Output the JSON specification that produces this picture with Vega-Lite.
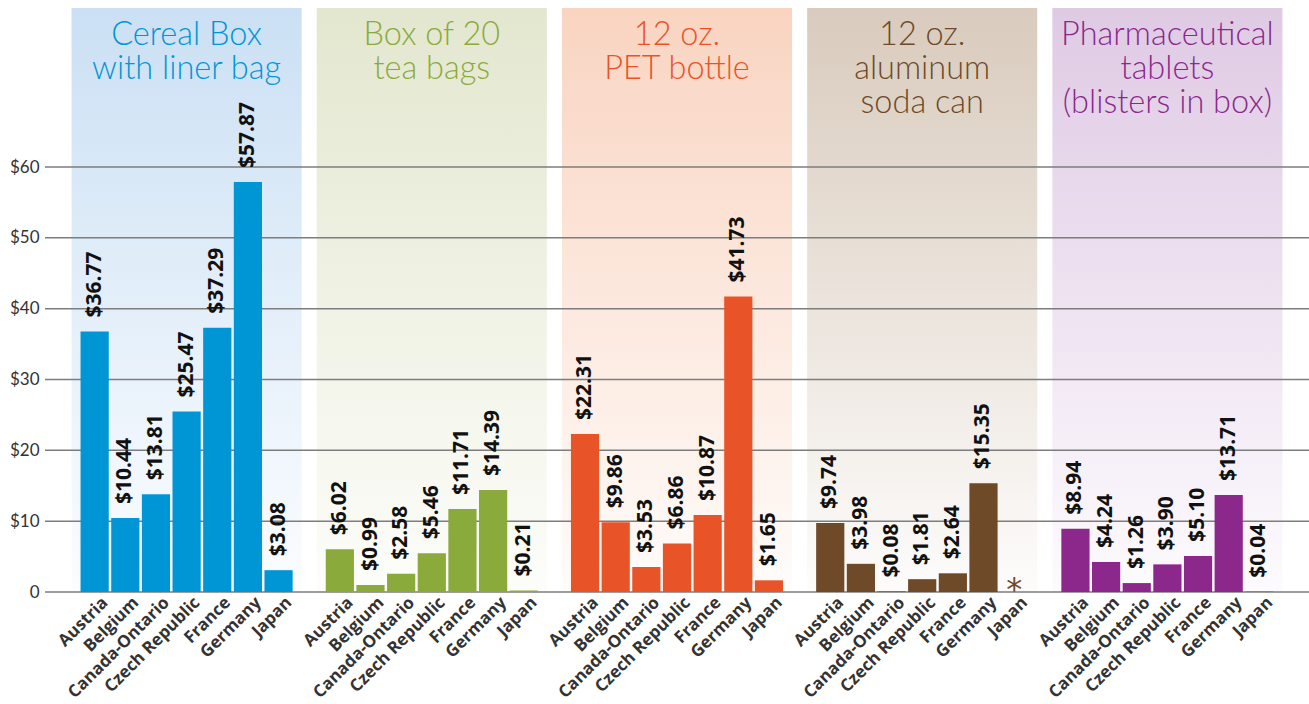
{
  "$schema": "https://vega.github.io/schema/vega-lite/v6.json",
  "width": 1264,
  "height": 584,
  "autosize": {"type": "none"},
  "padding": {"left": 45, "top": 8, "right": 0, "bottom": 112},
  "background": "white",
  "config": {
    "view": {"stroke": null},
    "font": "Lato",
    "axisX": {"title": null, "domain": false, "ticks": false, "grid": false, "labelAngle": -45, "labelAlign": "right", "labelBaseline": "top", "labelFont": "Open Sans", "labelFontWeight": "bold", "labelFontSize": 17, "labelColor": "#333333", "labelPadding": 2, "labelOffset": 5},
    "axisY": {"title": null, "domain": false, "ticks": false, "grid": false, "labelFont": "Lato", "labelFontSize": 17, "labelColor": "#333333", "labelPadding": 6}
  },
  "datasets": {
    "bars": [
      {"pkg": "p1", "country": "Austria", "value": 36.77},
      {"pkg": "p1", "country": "Belgium", "value": 10.44},
      {"pkg": "p1", "country": "Canada-Ontario", "value": 13.81},
      {"pkg": "p1", "country": "Czech Republic", "value": 25.47},
      {"pkg": "p1", "country": "France", "value": 37.29},
      {"pkg": "p1", "country": "Germany", "value": 57.87},
      {"pkg": "p1", "country": "Japan", "value": 3.08},
      {"pkg": "p2", "country": "Austria", "value": 6.02},
      {"pkg": "p2", "country": "Belgium", "value": 0.99},
      {"pkg": "p2", "country": "Canada-Ontario", "value": 2.58},
      {"pkg": "p2", "country": "Czech Republic", "value": 5.46},
      {"pkg": "p2", "country": "France", "value": 11.71},
      {"pkg": "p2", "country": "Germany", "value": 14.39},
      {"pkg": "p2", "country": "Japan", "value": 0.21},
      {"pkg": "p3", "country": "Austria", "value": 22.31},
      {"pkg": "p3", "country": "Belgium", "value": 9.86},
      {"pkg": "p3", "country": "Canada-Ontario", "value": 3.53},
      {"pkg": "p3", "country": "Czech Republic", "value": 6.86},
      {"pkg": "p3", "country": "France", "value": 10.87},
      {"pkg": "p3", "country": "Germany", "value": 41.73},
      {"pkg": "p3", "country": "Japan", "value": 1.65},
      {"pkg": "p4", "country": "Austria", "value": 9.74},
      {"pkg": "p4", "country": "Belgium", "value": 3.98},
      {"pkg": "p4", "country": "Canada-Ontario", "value": 0.08},
      {"pkg": "p4", "country": "Czech Republic", "value": 1.81},
      {"pkg": "p4", "country": "France", "value": 2.64},
      {"pkg": "p4", "country": "Germany", "value": 15.35},
      {"pkg": "p4", "country": "Japan", "value": null},
      {"pkg": "p5", "country": "Austria", "value": 8.94},
      {"pkg": "p5", "country": "Belgium", "value": 4.24},
      {"pkg": "p5", "country": "Canada-Ontario", "value": 1.26},
      {"pkg": "p5", "country": "Czech Republic", "value": 3.9},
      {"pkg": "p5", "country": "France", "value": 5.1},
      {"pkg": "p5", "country": "Germany", "value": 13.71},
      {"pkg": "p5", "country": "Japan", "value": 0.04}
    ],
    "panels": [
      {"pkg": "p1", "title": "Cereal Box\nwith liner bag", "first": "p1|Austria", "mid": "p1|Czech Republic", "last": "p1|Japan"},
      {"pkg": "p2", "title": "Box of 20\ntea bags", "first": "p2|Austria", "mid": "p2|Czech Republic", "last": "p2|Japan"},
      {"pkg": "p3", "title": "12 oz.\nPET bottle", "first": "p3|Austria", "mid": "p3|Czech Republic", "last": "p3|Japan"},
      {"pkg": "p4", "title": "12 oz.\naluminum\nsoda can", "first": "p4|Austria", "mid": "p4|Czech Republic", "last": "p4|Japan"},
      {"pkg": "p5", "title": "Pharmaceutical\ntablets\n(blisters in box)", "first": "p5|Austria", "mid": "p5|Czech Republic", "last": "p5|Japan"}
    ],
    "grid": [{"v": 0}, {"v": 10}, {"v": 20}, {"v": 30}, {"v": 40}, {"v": 50}, {"v": 60}]
  },
  "resolve": {"scale": {"x": "shared", "y": "shared", "color": "shared"}},
  "layer": [
    {
      "data": {"name": "panels"},
      "transform": [{"filter": "datum.pkg == 'p1'"}],
      "mark": {"type": "rect", "xOffset": -9, "x2Offset": 9, "fill": {"gradient": "linear", "x1": 0, "y1": 0, "x2": 0, "y2": 1, "stops": [{"offset": 0, "color": "#cbe0f4"}, {"offset": 1, "color": "#fbfdff"}]}},
      "encoding": {
        "x": {"field": "first", "type": "nominal", "bandPosition": 0, "axis": {"labelExpr": "split(datum.value, '|')[1]"}, "scale": {"domain": ["s0|", "p1|Austria", "p1|Belgium", "p1|Canada-Ontario", "p1|Czech Republic", "p1|France", "p1|Germany", "p1|Japan", "s1|", "p2|Austria", "p2|Belgium", "p2|Canada-Ontario", "p2|Czech Republic", "p2|France", "p2|Germany", "p2|Japan", "s2|", "p3|Austria", "p3|Belgium", "p3|Canada-Ontario", "p3|Czech Republic", "p3|France", "p3|Germany", "p3|Japan", "s3|", "p4|Austria", "p4|Belgium", "p4|Canada-Ontario", "p4|Czech Republic", "p4|France", "p4|Germany", "p4|Japan", "s4|", "p5|Austria", "p5|Belgium", "p5|Canada-Ontario", "p5|Czech Republic", "p5|France", "p5|Germany", "p5|Japan", "s5|"], "paddingInner": 0.08, "paddingOuter": 0.16}},
        "x2": {"field": "last", "bandPosition": 1}
      }
    },
    {
      "data": {"name": "panels"},
      "transform": [{"filter": "datum.pkg == 'p2'"}],
      "mark": {"type": "rect", "xOffset": -9, "x2Offset": 9, "fill": {"gradient": "linear", "x1": 0, "y1": 0, "x2": 0, "y2": 1, "stops": [{"offset": 0, "color": "#e3e7cf"}, {"offset": 1, "color": "#fdfdfa"}]}},
      "encoding": {"x": {"field": "first", "type": "nominal", "bandPosition": 0}, "x2": {"field": "last", "bandPosition": 1}}
    },
    {
      "data": {"name": "panels"},
      "transform": [{"filter": "datum.pkg == 'p3'"}],
      "mark": {"type": "rect", "xOffset": -9, "x2Offset": 9, "fill": {"gradient": "linear", "x1": 0, "y1": 0, "x2": 0, "y2": 1, "stops": [{"offset": 0, "color": "#f9d4c1"}, {"offset": 1, "color": "#fffcfa"}]}},
      "encoding": {"x": {"field": "first", "type": "nominal", "bandPosition": 0}, "x2": {"field": "last", "bandPosition": 1}}
    },
    {
      "data": {"name": "panels"},
      "transform": [{"filter": "datum.pkg == 'p4'"}],
      "mark": {"type": "rect", "xOffset": -9, "x2Offset": 9, "fill": {"gradient": "linear", "x1": 0, "y1": 0, "x2": 0, "y2": 1, "stops": [{"offset": 0, "color": "#d9cbbd"}, {"offset": 1, "color": "#fdfcfb"}]}},
      "encoding": {"x": {"field": "first", "type": "nominal", "bandPosition": 0}, "x2": {"field": "last", "bandPosition": 1}}
    },
    {
      "data": {"name": "panels"},
      "transform": [{"filter": "datum.pkg == 'p5'"}],
      "mark": {"type": "rect", "xOffset": -9, "x2Offset": 9, "fill": {"gradient": "linear", "x1": 0, "y1": 0, "x2": 0, "y2": 1, "stops": [{"offset": 0, "color": "#dfcae4"}, {"offset": 1, "color": "#fdfbfe"}]}},
      "encoding": {"x": {"field": "first", "type": "nominal", "bandPosition": 0}, "x2": {"field": "last", "bandPosition": 1}}
    },
    {
      "data": {"name": "grid"},
      "mark": {"type": "rule", "color": "#7d7d7d", "strokeWidth": 1.5},
      "encoding": {
        "y": {"field": "v", "type": "quantitative", "scale": {"domain": [0, 82.45], "nice": false, "zero": true},
          "axis": {"values": [0, 10, 20, 30, 40, 50, 60], "labelExpr": "datum.value == 0 ? '0' : '$' + datum.value"}}
      }
    },
    {
      "data": {"name": "bars"},
      "transform": [{"calculate": "datum.pkg + '|' + datum.country", "as": "key"}, {"filter": "datum.value != null"}],
      "mark": {"type": "bar"},
      "encoding": {
        "x": {"field": "key", "type": "nominal"},
        "y": {"field": "value", "type": "quantitative"},
        "color": {"field": "pkg", "type": "nominal", "legend": null, "scale": {"domain": ["p1", "p2", "p3", "p4", "p5"], "range": ["#0096d6", "#8aab3c", "#e85427", "#6e4a28", "#8c288c"]}}
      }
    },
    {
      "data": {"name": "bars"},
      "transform": [{"calculate": "datum.pkg + '|' + datum.country", "as": "key"}, {"filter": "datum.value != null"}, {"calculate": "'$' + format(datum.value, '.2f')", "as": "lbl"}],
      "mark": {"type": "text", "angle": 270, "align": "left", "baseline": "middle", "dx": 14, "font": "Open Sans", "fontWeight": "bold", "fontSize": 21, "fill": "#111111"},
      "encoding": {
        "x": {"field": "key", "type": "nominal", "bandPosition": 0.5},
        "y": {"field": "value", "type": "quantitative"},
        "text": {"field": "lbl"}
      }
    },
    {
      "data": {"name": "bars"},
      "transform": [{"calculate": "datum.pkg + '|' + datum.country", "as": "key"}, {"filter": "datum.value == null"}],
      "mark": {"type": "text", "text": "*", "align": "center", "baseline": "alphabetic", "dy": 8, "font": "DejaVu Sans", "fontSize": 32},
      "encoding": {
        "x": {"field": "key", "type": "nominal", "bandPosition": 0.5},
        "y": {"datum": 0, "type": "quantitative"},
        "color": {"field": "pkg", "type": "nominal"}
      }
    },
    {
      "data": {"name": "panels"},
      "mark": {"type": "text", "align": "center", "baseline": "alphabetic", "lineBreak": "\n", "font": "Lato", "fontWeight": 300, "fontSize": 32.5, "lineHeight": 34},
      "encoding": {
        "x": {"field": "mid", "type": "nominal", "bandPosition": 0.5},
        "y": {"datum": 77.2, "type": "quantitative"},
        "text": {"field": "title"},
        "color": {"field": "pkg", "type": "nominal"}
      }
    }
  ]
}
